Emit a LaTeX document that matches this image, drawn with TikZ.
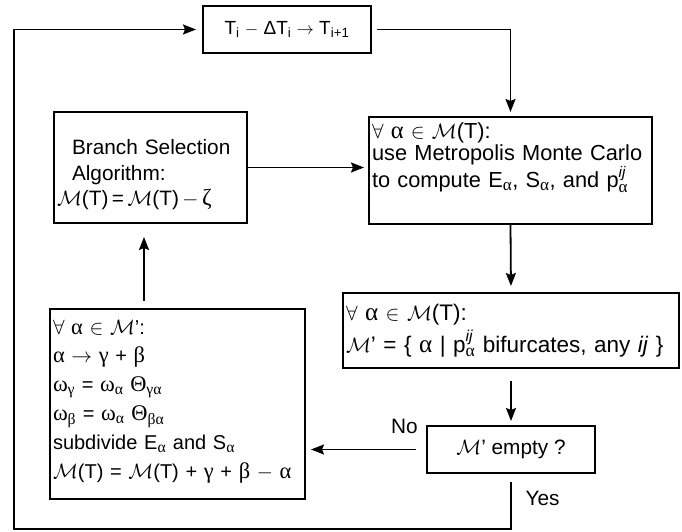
\documentclass[tikz,border=0pt]{standalone}
\usepackage{amsmath}
\usepackage{fontspec}
\setmainfont{Liberation Sans}
\newfontfamily\symb[Scale=1.12]{Liberation Serif}
\usetikzlibrary{arrows.meta}
\newcommand{\gAl}{{\symb α}}
\newcommand{\gBe}{{\symb β}}
\newcommand{\gGa}{{\symb γ}}
\newcommand{\gOm}{{\symb ω}}
\newcommand{\gZe}{{\symb ζ}}
\newcommand{\gTh}{{\symb Θ}}
\newcommand{\calM}{$\mathcal{M}$}
\lineskiplimit=-20pt
\tikzset{
	flowbox/.style={draw, line width=2pt, inner xsep=3pt, inner ysep=3pt, align=left},
	flowline/.style={line width=1.8pt, -{Stealth[length=13pt,width=10pt,inset=2pt]}},
	flowlabel/.style={font=\fontsize{20.8pt}{24pt}\selectfont, inner sep=0pt},
}

\begin{document}
\begin{tikzpicture}[x=1pt,y=1pt]
			%%%%% START %%%%%
			\useasboundingbox (0,0) rectangle (682,532);
			
			\node[flowbox, align=center, minimum width=168, minimum height=47,
				font=\fontsize{19pt}{24pt}\selectfont] (tbox) at (287, 502.5)
				{T$_\text{i}$ $-$ ΔT$_\text{i}$ $\rightarrow$ T$_\text{i+1}$};
			
			\node[flowbox, text width=187, minimum width=193, minimum height=111,
				font=\fontsize{20.8pt}{25.5pt}\selectfont] (branch) at (150.5, 364.5)
				{\hspace*{15pt}Branch Selection\rule{0pt}{30pt}\\ \hspace*{15pt}Algorithm:\\
				\calM(T)\,=\,\calM(T)\,$-$\,\gZe};
			
			\node[flowbox, inner ysep=0pt, text width=277, minimum width=283, minimum height=107,
				font=\fontsize{21.8pt}{22pt}\selectfont] (metro) at (510.5, 361.5)
				{$\forall$ \gAl\ $\in$ \calM(T):\\ \mbox{use Metropolis Monte Carlo}\\
				\mbox{to compute E$_{\text{\gAl}}$, S$_{\text{\gAl}}$, and p$^{\textit{ij}}_{\text{\gAl}}$}\rule[-30pt]{0pt}{30pt}};
			
			\node[flowbox, text width=330, minimum width=336, minimum height=75,
				font=\fontsize{22.5pt}{22pt}\selectfont] (mprime) at (511, 201.5)
				{$\forall$ \gAl\ $\in$ \calM(T):\\[4pt]
				\mbox{\calM' = \{ \gAl\ | p$^{\textit{ij}}_{\text{\gAl}}$ bifurcates, any \textit{ij} \}}};
			
			\node[flowbox, align=center, minimum width=168, minimum height=47,
				font=\fontsize{20.8pt}{24pt}\selectfont] (empty) at (511, 82.5)
				{\calM' empty ?};
			
			\node[flowbox, text width=249, minimum width=255, minimum height=190,
				font=\fontsize{20pt}{28.8pt}\selectfont] (sub) at (177.5, 128)
				{$\forall$ \gAl\ $\in$ \calM':\\
				\gAl\ $\rightarrow$ \gGa\ + \gBe\\
				\gOm$_{\text{\gGa}}$ = \gOm$_{\text{\gAl}}$ \gTh$_{\text{\gGa\gAl}}$\\
				\gOm$_{\text{\gBe}}$ = \gOm$_{\text{\gAl}}$ \gTh$_{\text{\gBe\gAl}}$\\
				subdivide E$_{\text{\gAl}}$ and S$_{\text{\gAl}}$\\
				\calM(T) = \calM(T) + \gGa\ + \gBe\ $-$ \gAl\rule[-10pt]{0pt}{10pt}};
			
			\node[flowlabel, anchor=south east] (nolbl) at (418, 98) {No};
			\node[flowlabel] (yeslbl) at (542.5, 33.5) {Yes};
			\coordinate (loopcorner) at (14, 3);
			
			\draw[flowline, shorten <=5pt, shorten >=4pt] (tbox.east) -| (metro.north);
			\draw[flowline, shorten >=4pt] (branch.east) -- (branch.east -| metro.west);
			\draw[flowline, shorten >=6pt] (metro.south) -- (mprime.north);
			\draw[flowline, shorten <=12pt, shorten >=4pt] (mprime.south) -- (empty.north);
			\draw[flowline, shorten <=10pt, shorten >=5pt] (empty.west) -- (empty.west -| sub.east);
			\draw[flowline, shorten <=7pt, shorten >=13pt] ([xshift=-6.5pt]branch.south |- sub.north) -- ([xshift=-6.5pt]branch.south);
			\draw[flowline, shorten <=8pt, shorten >=6pt] (empty.south) |- (loopcorner) |- (tbox.west);
			
			%%%%% END %%%%%
		\end{tikzpicture}
\end{document}
